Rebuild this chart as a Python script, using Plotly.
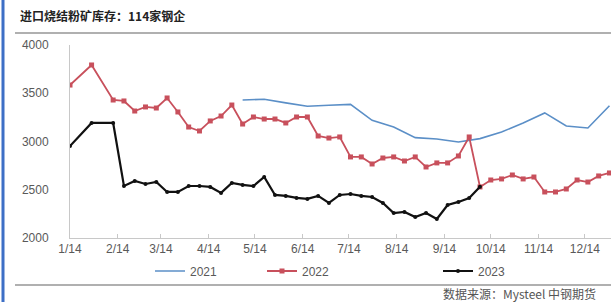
import pandas as pd
import plotly.graph_objects as go

# weekly positions from 1/14 (calendar day-of-year mapped onto one year)
n_weeks = 51
week_dates = list(pd.date_range("2023-01-14", periods=n_weeks, freq="7D"))

s2021 = [None]*16 + [3430, None, 3438, None, 3400, None, 3365, None, 3375, None,
         3385, None, 3220, None, 3150, None, 3040, None, 3026, None, 2995, None,
         3030, None, 3098, None, 3192, None, 3296, None, 3161, None, 3140, None, 3370]
s2022 = [3585, None, 3793, None, 3430, 3420, 3316, 3358, 3347, 3451, 3306, 3150, 3109,
         3213, 3264, 3378, 3181, 3254, 3233, 3233, 3192, 3254, 3254, 3057, 3036, 3047,
         2840, 2840, 2767, 2829, 2840, 2798, 2840, 2736, 2778, 2778, 2850, 3047, 2529,
         2601, 2612, 2653, 2612, 2632, 2477, 2477, 2508, 2601, 2580, 2643, 2674]
s2023 = [2953, None, 3192, None, 3192, 2539, 2591, 2560, 2580, 2477, 2477, 2539, 2539,
         2529, 2467, 2570, 2550, 2539, 2632, 2446, 2436, 2415, 2405, 2436, 2363, 2446,
         2456, 2436, 2425, 2363, 2259, 2270, 2218, 2259, 2197, 2342, 2374, 2415, 2530]

tick_dates = ["2023-%02d-14" % m for m in range(1, 13)]
tick_labels = ["%d/14" % m for m in range(1, 13)]
y_ticks = [2000, 2500, 3000, 3500, 4000]

title = "进口烧结粉矿库存：114家钢企"
source = "数据来源：Mysteel 中钢期货"

FONT = "Liberation Sans, Noto Sans CJK SC, sans-serif"
GRAY = "#595959"

fig = go.Figure()
fig.add_trace(go.Scatter(x=week_dates, y=s2021, name="2021", mode="lines",
                         line=dict(color="#5b8fc7", width=1.6), connectgaps=True,
                         legend="legend", showlegend=True))
fig.add_trace(go.Scatter(x=week_dates[:len(s2022)], y=s2022, name="2022", mode="lines+markers",
                         line=dict(color="#c8505c", width=1.8),
                         marker=dict(symbol="square", size=5, color="#c8505c"),
                         connectgaps=True, legend="legend2", showlegend=True))
fig.add_trace(go.Scatter(x=week_dates[:len(s2023)], y=s2023, name="2023", mode="lines+markers",
                         line=dict(color="#111111", width=2.2),
                         marker=dict(symbol="circle", size=4, color="#111111"),
                         connectgaps=True, legend="legend3", showlegend=True))

W, H = 611, 302
L, R, T, B = 70, 0, 45, 64
pw, ph = W - L - R, H - T - B


def px(x):
    return (x - L) / pw


def py(y):
    return (H - B - y) / ph


legend_common = dict(orientation="h", yanchor="middle", y=py(271), xanchor="left",
                     bgcolor="rgba(0,0,0,0)", font=dict(family=FONT, size=12, color=GRAY),
                     itemwidth=30, tracegroupgap=0, visible=True)

fig.update_layout(
    width=W, height=H,
    margin=dict(l=L, r=R, t=T, b=B, autoexpand=False),
    paper_bgcolor="white", plot_bgcolor="white",
    showlegend=True,
    font=dict(family=FONT, size=12, color=GRAY),
    legend=dict(x=px(150), **legend_common),
    legend2=dict(x=px(262), **legend_common),
    legend3=dict(x=px(438), **legend_common),
    xaxis=dict(type="date", range=["2023-01-14", "2023-12-31"],
               tickvals=tick_dates, ticktext=tick_labels,
               showline=True, linecolor="#c8c8c8", linewidth=1,
               ticks="inside", ticklen=4, tickcolor="#c8c8c8",
               showgrid=False, zeroline=False, automargin=False,
               tickfont=dict(size=12, color=GRAY)),
    yaxis=dict(range=[2000, 4000], tickvals=y_ticks,
               showline=True, linecolor="#c8c8c8", linewidth=1,
               ticks="", showgrid=False, zeroline=False, automargin=False,
               ticklabelstandoff=18,
               tickfont=dict(size=12, color=GRAY)),
)

shapes = [
    dict(type="line", xref="paper", yref="paper", x0=px(15), x1=1.0, y0=py(33), y1=py(33),
         line=dict(color="#b0b0b0", width=2)),
    dict(type="line", xref="paper", yref="paper", x0=px(15), x1=1.0, y0=py(285), y1=py(285),
         line=dict(color="#b0b0b0", width=2)),
    dict(type="line", xref="paper", yref="paper", x0=px(3), x1=px(3), y0=py(0), y1=py(302),
         line=dict(color="#3d6fc6", width=3)),
]
fig.update_layout(shapes=shapes)

fig.add_annotation(xref="paper", yref="paper", x=px(18), y=py(16), xanchor="left", yanchor="middle",
                   text="<b>%s</b>" % title, showarrow=False,
                   font=dict(family="Noto Sans CJK SC, sans-serif", size=12, color="#222222"))
fig.add_annotation(xref="paper", yref="paper", x=px(598), y=py(293), xanchor="right", yanchor="middle",
                   text=source, showarrow=False,
                   font=dict(family="Noto Sans CJK SC, Liberation Sans, sans-serif", size=12, color="#555555"))

fig.write_html("out.html", config={"displayModeBar": False},
               post_script="document.body.style.margin='0';document.body.style.overflow='hidden';")
